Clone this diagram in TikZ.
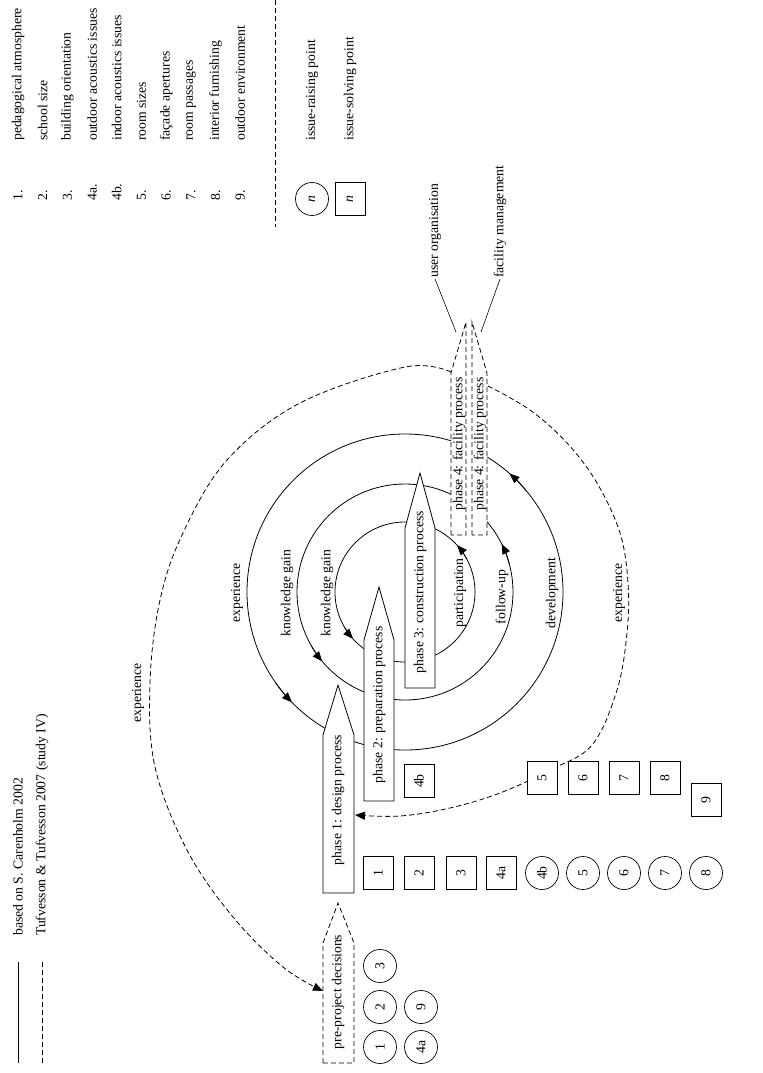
\documentclass[tikz,border=0pt]{standalone}
\usepackage{fontspec}
\setmainfont{Liberation Serif}
\usetikzlibrary{arrows.meta,calc}
\begin{document}
\begin{tikzpicture}[x=1bp,y=1bp,yscale=-1,
  every node/.style={font=\fontsize{13.7bp}{16bp}\selectfont, inner sep=1pt},
  ln/.style={line width=0.8pt},
  thin line/.style={line width=0.6pt},
  dsh/.style={line width=0.8pt, dash pattern=on 5bp off 3bp},
  tipped/.style={-{Triangle[length=10bp,width=8bp]}},
  rot/.style={rotate=90},
  sq/.style={draw, line width=0.7pt, minimum width=33bp, minimum height=30bp, rotate=90, fill=white, inner sep=0pt},
  ci/.style={draw, circle, line width=0.7pt, minimum size=33bp, rotate=90, fill=white, inner sep=0pt},
  proc/.style={line width=0.8pt, fill=white},
  dproc/.style={dsh, fill=white}
]
\useasboundingbox (0,0) rectangle (763,1073);

% ---------- legend: issues list ----------
\foreach \n/\t [count=\i from 0] in {1./pedagogical atmosphere, 2./school size, 3./building orientation, 4a./outdoor acoustics issues, 4b./indoor acoustics issues, 5./room sizes, 6./façade apertures, 7./room passages, 8./interior furnishing, 9./outdoor environment}{
  \node[rot,anchor=west] (num\i) at ({18+24.7*\i},202) {\n};
  \node[rot,anchor=west] (lab\i) at ({18+24.7*\i},142) {\t};
}
\coordinate (sepT) at (275,0);
\coordinate (sepB) at (275,227);
\draw[dsh,line width=0.6pt] (sepT) -- (sepB);
\node[ci] (legc) at (312,199) {\textit{n}};
\node[sq] (legs) at (350,199) {\textit{n}};
\node[rot,anchor=west] (legct) at (312,142) {issue-raising point};
\node[rot,anchor=west] (legst) at (350,142) {issue-solving point};

% ---------- legend: line types ----------
\coordinate (l1a) at (18,962); \coordinate (l1b) at (18,1063);
\coordinate (l2a) at (42,962); \coordinate (l2b) at (42,1063);
\draw[ln] (l1a) -- (l1b);
\draw[dsh] (l2a) -- (l2b);
\node[rot,anchor=west] (src1) at (18,937) {based on S. Carenholm 2002};
\node[rot,anchor=west] (src2) at (42,937) {Tufvesson \& Tufvesson 2007 (study IV)};

% ---------- circles ----------
\coordinate (C) at (405,592);
\draw[ln] (C) circle[radius=70];
\draw[ln] (C) circle[radius=108];
\draw[ln] (C) circle[radius=158];

\draw[ln,tipped] (C) ++(150:70) arc[start angle=150,end angle=138,radius=70];
\draw[ln,tipped] (C) ++(332:70) arc[start angle=332,end angle=318,radius=70];
\draw[ln,tipped] (C) ++(150:108) arc[start angle=150,end angle=140,radius=108];
\draw[ln,tipped] (C) ++(345:108) arc[start angle=345,end angle=333.6,radius=108];
\draw[ln,tipped] (C) ++(145:158) arc[start angle=145,end angle=135.7,radius=158];
\draw[ln,tipped] (C) ++(320:158) arc[start angle=320,end angle=311.4,radius=158];

\node[rot] (kg1) at (327,593) {knowledge gain};
\node[rot] (kg2) at (287,593) {knowledge gain};
\node[rot] (ex1) at (237,593) {experience};
\node[rot] (part) at (460,593) {participation};
\node[rot] (fu) at (502,597) {follow-up};
\node[rot] (dev) at (552,593) {development};
\node[rot] (ex2) at (619,593) {experience};
\node[rot] (ex3) at (138,693) {experience};

% ---------- dashed experience curves ----------
\coordinate (pA) at (451,372);
\coordinate (pre) at (323,991);
\draw[dsh,tipped] plot[smooth,tension=0.6] coordinates {(pA) (405,367) (300,403) (227,460) (183,533) (160,600) (150,683) (155,767) (187,850) (233,917) (283,967) (pre)};
\coordinate (pB) at (488,386);
\coordinate (ph1r) at (355,815);
\draw[dsh,tipped] plot[smooth,tension=0.6] coordinates {(pB) (530,410) (567,443) (597,483) (620,533) (628,583) (627,633) (617,690) (592,745) (550,770) (500,793) (450,808) (400,816) (ph1r)};

% ---------- process arrows ----------
\draw[dproc] (323,1063) -- (323,943) -- (338,903) -- (354,943) -- (354,1063) -- cycle;
\node[rot] (pp) at (338,992) {pre-project decisions};

\draw[proc] (323,893) -- (323,735) -- (338,685) -- (354,735) -- (354,893) -- cycle;
\node[rot] (p1) at (338,800) {phase 1: design process};

\draw[proc] (364,801) -- (364,640) -- (379,587) -- (394,640) -- (394,801) -- cycle;
\node[rot] (p2) at (379,705) {phase 2: preparation process};

\draw[proc] (405,688) -- (405,528) -- (420,473) -- (435,528) -- (435,688) -- cycle;
\node[rot] (p3) at (420,592) {phase 3: construction process};

\fill[white] (451,535) -- (451,373) -- (469,322) -- (487,373) -- (487,535) -- cycle;
\draw[dsh] (451,535) -- (451,373) -- (466,322) -- (466,535) -- cycle;
\draw[dsh] (472,535) -- (472,322) -- (487,373) -- (487,535) -- cycle;
\node[rot] (p4a) at (459,444) {phase 4: facility process};
\node[rot] (p4b) at (480,444) {phase 4: facility process};

\coordinate (uoS) at (456,332);
\coordinate (fmS) at (481,332);
\node[rot,anchor=west] (uo) at (435,279) {user organisation};
\node[rot,anchor=west] (fm) at (500,279) {facility management};
\draw[thin line] (uoS) -- (uo.west);
\draw[thin line] (fmS) -- (fm.west);

% ---------- issue points ----------
\node[ci] (c1) at (380,1047) {1};
\node[ci] (c2) at (380,1007) {2};
\node[ci] (c3) at (380,966) {3};
\node[ci] (c4a) at (421,1047) {4a};
\node[ci] (c9) at (421,1007) {9};

\node[sq] (s1) at (378,873) {1};
\node[sq] (s2) at (419,873) {2};
\node[sq] (s3) at (461,873) {3};
\node[sq] (s4a) at (501,873) {4a};
\node[sq] (s4b) at (419,781) {4b};
\node[ci] (c4b) at (542,873) {4b};

\node[sq] (s5) at (542,778) {5};
\node[sq] (s6) at (583,778) {6};
\node[sq] (s7) at (624,778) {7};
\node[sq] (s8) at (665,778) {8};
\node[sq] (s9) at (706,800) {9};
\node[ci] (c5) at (583,873) {5};
\node[ci] (c6) at (624,873) {6};
\node[ci] (c7) at (665,873) {7};
\node[ci] (c8) at (706,873) {8};
\end{tikzpicture}
\end{document}
